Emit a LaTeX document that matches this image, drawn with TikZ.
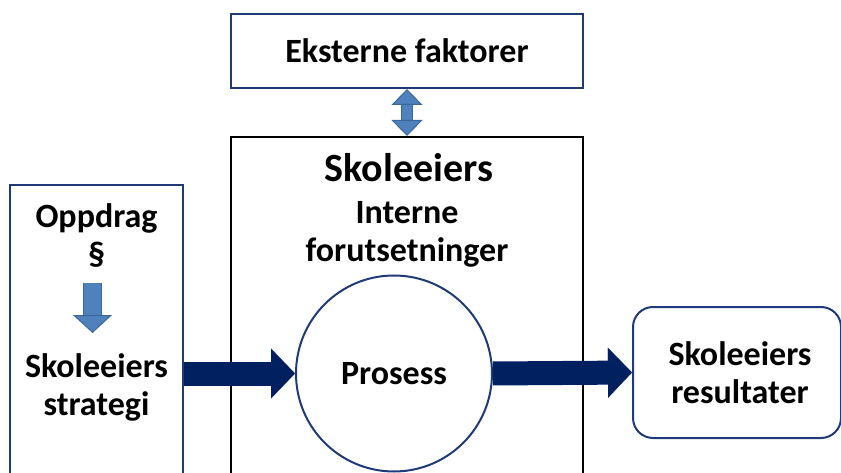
\documentclass[tikz,border=0pt]{standalone}
\usepackage{fontspec}
\setmainfont{Carlito}
\usepackage{tikz}
\usetikzlibrary{arrows.meta}
\definecolor{boxblue}{HTML}{1F3A78}
\definecolor{flownavy}{HTML}{002060}
\definecolor{steel}{HTML}{4F81BD}
\definecolor{steelline}{HTML}{3A679E}
\def\txtfont{\fontsize{34}{38}\selectfont\bfseries}

\begin{document}
\begin{tikzpicture}[x=1pt, y=-1pt, line width=2pt]
	\tikzstyle{frame}=[rectangle, draw=boxblue, line width=2pt, inner sep=0pt]
	\tikzstyle{owner frame}=[frame, draw=black];
	\tikzstyle{result frame}=[frame, rounded corners=20pt];
	\tikzstyle{process}=[circle, draw=boxblue, line width=2pt, fill=white, inner sep=0pt, minimum size=196pt];
	\tikzstyle{annot}=[font=\txtfont, align=center, inner sep=0pt];
	\tikzstyle{flow}=[draw=flownavy, line width=24pt, -{Triangle[width=50pt, length=24pt, line width=0.1pt, fill=flownavy]}];
	\tikzstyle{hint}=[draw=steelline, double=steel, line width=1pt];

	\useasboundingbox (0,0) rectangle (841,473);
	\clip (0,0) rectangle (841,473);

	% Draw the boxes
	\node[frame, minimum width=352pt, minimum height=74pt] (ext) at (407,51) {};
	\node[owner frame, minimum width=352pt, minimum height=360pt] (owner) at (407,317) {};
	\node[frame, minimum width=173pt, minimum height=310pt] (mission) at (96.5,340) {};
	\node[result frame, minimum width=208pt, minimum height=131pt] (result) at (737,372.5) {};
	\node[process] (proc) at (394,373.5) {};

	% Texts
	\node[annot] (ext-t) at (407,51) {Eksterne faktorer};
	\node[annot, font=\fontsize{40}{44}\selectfont\bfseries] (owner-t) at (409,168) {Skoleeiers};
	\node[annot] (inner-t) at (407,234) {Interne\\forutsetninger};
	\node[annot] (mission-t) at (96.5,236) {Oppdrag\\§};
	\node[annot] (strategy-t) at (96.5,387) {Skoleeiers\\strategi};
	\node[annot] (proc-t) at (proc) {Prosess};
	\node[annot] (result-t) at (740,373) {Skoleeiers\\resultater};

	% Connect the flow
	\draw[flow] (mission.east |- proc.west) -- (proc.west);
	\draw[flow] (proc.east) -- (result.west);

	% Small arrows
	\coordinate (down-a) at (92.5,283);
	\coordinate (down-b) at (92.5,333);
	\draw[hint, double distance=17pt, -{Triangle[width=39pt, length=18pt, line width=1pt, fill=steel, color=steelline]}] (down-a) -- (down-b);
	\draw[hint, double distance=10pt, {Triangle[width=31pt, length=16pt, line width=1pt, fill=steel, color=steelline]}-{Triangle[width=31pt, length=16pt, line width=1pt, fill=steel, color=steelline]}] (ext.south) -- (owner.north);
\end{tikzpicture}
\end{document}
